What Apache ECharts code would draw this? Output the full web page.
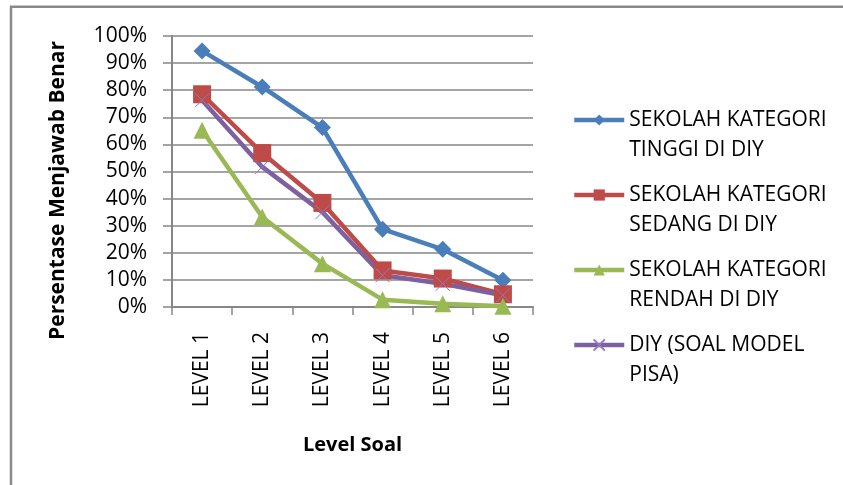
<!DOCTYPE html>
<html>
<head>
<meta charset="utf-8">
<script src="https://cdn.jsdelivr.net/npm/echarts@6/dist/echarts.min.js"></script>
<style>
  html, body { margin: 0; padding: 0; background: #ffffff; }
  #chart { width: 843px; height: 485px; }
</style>
</head>
<body>
<div id="chart"></div>
<script>
// Question levels on the x axis
const levels = ['LEVEL 1', 'LEVEL 2', 'LEVEL 3', 'LEVEL 4', 'LEVEL 5', 'LEVEL 6'];

// Share of correct answers (0..1) per school group
const tinggi = [0.945, 0.812, 0.662, 0.287, 0.213, 0.099];
const sedang = [0.785, 0.568, 0.384, 0.135, 0.105, 0.047];
const rendah = [0.652, 0.332, 0.160, 0.027, 0.012, 0.003];
const diy    = [0.763, 0.517, 0.350, 0.117, 0.086, 0.043];

const seriesNames = [
  'SEKOLAH KATEGORI\nTINGGI DI DIY',
  'SEKOLAH KATEGORI\nSEDANG DI DIY',
  'SEKOLAH KATEGORI\nRENDAH DI DIY',
  'DIY (SOAL MODEL\nPISA)'
];

const FONT = '"Open Sans", "Noto Sans", sans-serif';
const GRID_GRAY = '#878787';

const chart = echarts.init(document.getElementById('chart'), null, { renderer: 'canvas' });

function lineSeries(name, data, color, symbol, size, extraItem) {
  return {
    name: name,
    type: 'line',
    data: data,
    symbol: symbol,
    symbolSize: size,
    lineStyle: { color: color, width: 4.5 },
    itemStyle: Object.assign({ color: color }, extraItem || {}),
    emphasis: { disabled: true }
  };
}

chart.setOption({
  animation: false,
  backgroundColor: '#ffffff',
  textStyle: { fontFamily: FONT },
  graphic: [{
    type: 'rect',
    shape: { x: 11, y: 6.8, width: 1000, height: 1000 },
    style: { fill: 'none', stroke: '#8a8a8a', lineWidth: 2.5 },
    silent: true
  }],
  grid: { left: 172, right: 310, top: 36, bottom: 178 },
  legend: {
    orient: 'vertical',
    left: 572,
    top: 75,
    padding: 0,
    itemWidth: 50,
    itemHeight: 14,
    itemGap: -15,
    selectedMode: false,
    lineStyle: { width: 4.5 },
    // a blank leading line keeps the icon level with the first text line
    formatter: function (name) { return ' \n' + name; },
    textStyle: {
      fontFamily: FONT,
      fontSize: 21,
      lineHeight: 30,
      color: '#000000'
    },
    data: seriesNames
  },
  xAxis: {
    type: 'category',
    data: levels,
    boundaryGap: true,
    name: 'Level Soal',
    nameLocation: 'middle',
    nameGap: 128,
    nameTextStyle: { fontFamily: FONT, fontSize: 20, fontWeight: 'bold', color: '#000000' },
    axisLine: { lineStyle: { color: GRID_GRAY, width: 2 } },
    axisTick: { show: true, length: 8, lineStyle: { color: GRID_GRAY, width: 1.5 } },
    axisLabel: { rotate: 90, fontFamily: FONT, fontSize: 21, color: '#000000', margin: 25 }
  },
  yAxis: {
    type: 'value',
    min: 0,
    max: 1,
    interval: 0.1,
    name: 'Persentase Menjawab Benar',
    nameLocation: 'middle',
    nameRotate: 90,
    nameGap: 103,
    nameTextStyle: {
      fontFamily: FONT, fontSize: 21, fontWeight: 'bold', color: '#000000',
      padding: [0, 38, 0, 0]
    },
    axisLine: { show: true, lineStyle: { color: GRID_GRAY, width: 2 } },
    axisTick: { show: true, length: 9, lineStyle: { color: GRID_GRAY, width: 1.5 } },
    splitLine: { show: true, lineStyle: { color: GRID_GRAY, width: 1.5 } },
    axisLabel: {
      fontFamily: FONT, fontSize: 21, color: '#000000', margin: 25,
      formatter: function (v) { return Math.round(v * 100) + '%'; }
    }
  },
  series: [
    lineSeries(seriesNames[0], tinggi, '#4A7EBB', 'diamond', 17),
    lineSeries(seriesNames[1], sedang, '#BE4B48', 'rect', 18),
    lineSeries(seriesNames[2], rendah, '#98B954', 'triangle', 17),
    lineSeries(seriesNames[3], diy, '#7D60A0', 'path://M0,0L10,10M10,0L0,10', 14,
      { color: 'none', borderColor: '#8f79c0', borderWidth: 1 })
  ]
});
</script>
</body>
</html>
